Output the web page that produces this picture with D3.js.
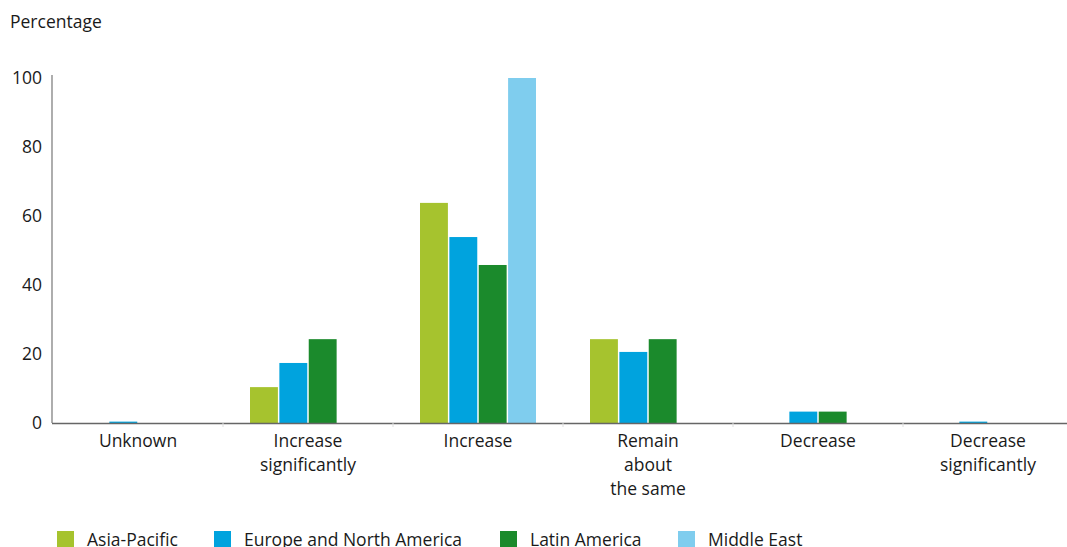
<!DOCTYPE html>
<html><head><meta charset="utf-8">
<script src="https://cdn.jsdelivr.net/npm/d3@7"></script>
<style>body{margin:0;background:#fff;} svg{display:block;} text{font-family:"Open Sans",sans-serif;fill:#1a1a1a;}</style>
</head><body>
<svg id="c" width="1067" height="547"></svg>
<script>
const categories = ["Unknown", "Increase\nsignificantly", "Increase", "Remain\nabout\nthe same", "Decrease", "Decrease\nsignificantly"];
const seriesNames = ["Asia-Pacific", "Europe and North America", "Latin America", "Middle East"];
const asiaPacific = [0, 10.4, 63.8, 24.3, 0, 0];
const europeNorthAmerica = [0.4, 17.4, 53.9, 20.6, 3.3, 0.4];
const latinAmerica = [0, 24.3, 45.8, 24.3, 3.3, 0];
const middleEast = [0, 0, 100, 0, 0, 0];
const yTicks = [0, 20, 40, 60, 80, 100];
const colors = ["#a6c32e", "#00a3de", "#1b8a2c", "#7fcdee"];

const seriesValues = [asiaPacific, europeNorthAmerica, latinAmerica, middleEast];
const svg = d3.select("#c");
const mLeft = 52, mRight = 1067, mTop = 78, mBottom = 423;
const FS = 17.5;

const x0 = d3.scaleBand().domain(categories).range([53, 1073]).padding(0);
const bw = x0.bandwidth();
const x1 = d3.scaleBand().domain(seriesNames).range([bw/2 - 58, bw/2 + 58]).paddingInner(0.05).paddingOuter(0);
const y = d3.scaleLinear().domain([0, 100]).range([mBottom, mTop]);

// y axis line
svg.append("line").attr("x1", mLeft).attr("x2", mLeft).attr("y1", 75).attr("y2", mBottom)
  .attr("stroke", "#777").attr("stroke-width", 1.2);

// y tick labels
svg.append("g").selectAll("text").data(yTicks).join("text")
  .attr("x", 42).attr("y", d => y(d)).attr("dy", "0.35em")
  .attr("text-anchor", "end").attr("font-size", FS).text(d => d);

svg.append("text").attr("x", 10).attr("y", 28).attr("font-size", FS).text("Percentage");

// bars
const g = svg.append("g");
categories.forEach((c, i) => {
  seriesNames.forEach((s, j) => {
    const v = seriesValues[j][i];
    if (v <= 0) return;
    g.append("rect")
      .attr("x", x0(c) + x1(s))
      .attr("width", x1.bandwidth())
      .attr("y", y(v))
      .attr("height", y(0) - y(v))
      .attr("fill", colors[j]);
  });
});

// x axis line
svg.append("line").attr("x1", mLeft).attr("x2", mRight).attr("y1", mBottom + 0.5).attr("y2", mBottom + 0.5)
  .attr("stroke", "#666").attr("stroke-width", 1.4);

// faint ticks between categories
svg.append("g").selectAll("line").data(categories.slice(1)).join("line")
  .attr("x1", d => x0(d)).attr("x2", d => x0(d)).attr("y1", mBottom).attr("y2", mBottom + 4)
  .attr("stroke", "#ddd");

// x labels
const xl = svg.append("g");
categories.forEach(c => {
  const lines = c.split("\n");
  const t = xl.append("text").attr("x", x0(c) + bw/2).attr("y", 447)
    .attr("text-anchor", "middle").attr("font-size", FS);
  lines.forEach((ln, k) => {
    t.append("tspan").attr("x", x0(c) + bw/2).attr("dy", k === 0 ? 0 : 24).text(ln);
  });
});

// legend
const legX = [57, 214, 500, 678];
const lg = svg.append("g");
seriesNames.forEach((s, j) => {
  lg.append("rect").attr("x", legX[j]).attr("y", 531).attr("width", 17).attr("height", 17).attr("fill", colors[j]);
  lg.append("text").attr("x", legX[j] + 30).attr("y", 546).attr("font-size", FS).text(s);
});
</script>
</body></html>
